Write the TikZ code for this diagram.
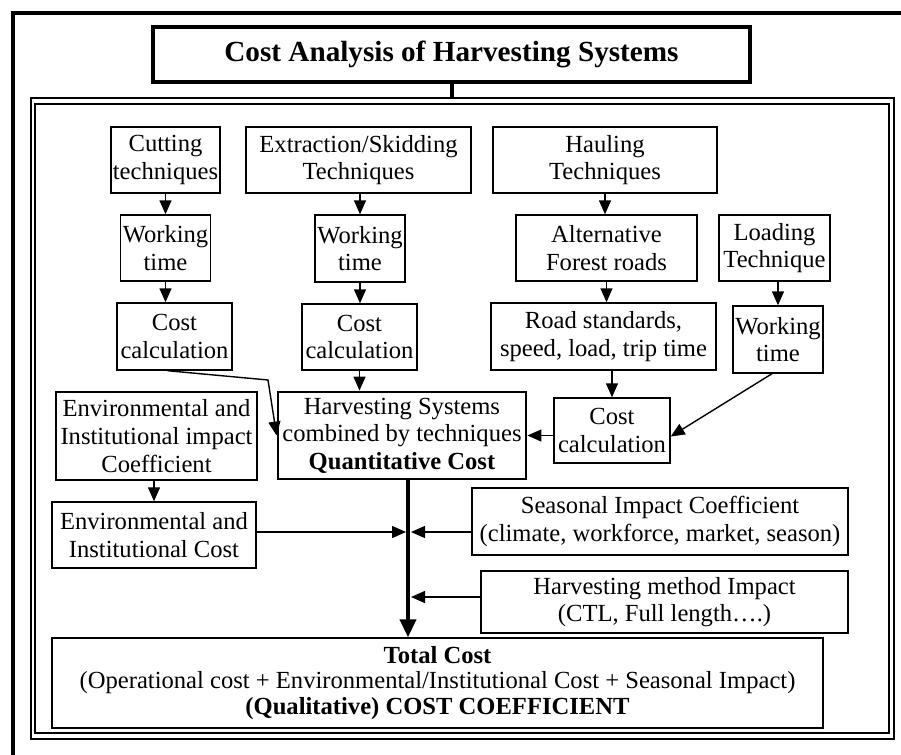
\documentclass[tikz,border=0pt]{standalone}
\usepackage{fontspec}
\setmainfont{Liberation Serif}
\usetikzlibrary{arrows.meta}

\begin{document}
\begin{tikzpicture}[x=0.5pt, y=-0.5pt, >={Triangle[length=7pt, width=6pt]},
	box/.style={draw, line width=0.7pt, align=center, inner sep=1pt, font=\fontsize{12.3}{13.8}\selectfont},
	wh/.style 2 args={minimum width=#1*0.5pt, minimum height=#2*0.5pt},
	link/.style={->, line width=0.7pt},
	mainlink/.style={-{Triangle[length=9pt, width=8pt]}, line width=2pt}]
		\useasboundingbox (0,0) rectangle (901,755);
		\clip (0,0) rectangle (901,755);
		
		% frames
		\draw[line width=2.3pt] (13,13) rectangle (930,790);
		\draw[line width=1.2pt] (31,98) rectangle (894,739);
		\draw[line width=0.6pt] (35,104) rectangle (889,733);
		\coordinate (frametop) at (450,98);
		
		\node[box, wh={597}{55}, line width=2pt, font=\fontsize{14.6}{16}\selectfont\bfseries] (title) at (451.5,54.5) {Cost Analysis of Harvesting Systems};
		
		% techniques
		\node[box, wh={109}{66}] (cut) at (165.5,160) {Cutting\\techniques};
		\node[box, wh={225}{66}] (ext) at (358.5,160) {Extraction/Skidding\\Techniques};
		\node[box, wh={224}{66}] (haul) at (605,160) {Hauling\\Techniques};
		
		\node[box, wh={89}{66}] (wt1) at (165.5,248) {Working\\time};
		\node[box, wh={90}{67}] (wt2) at (360,248.5) {Working\\time};
		\node[box, wh={181}{66}] (alt) at (606.5,248) {Alternative\\Forest roads};
		\node[box, wh={111}{66}] (load) at (774.5,248) {Loading\\Technique};
		
		\node[box, wh={115}{67}] (cc1) at (174.5,336.5) {Cost\\calculation};
		\node[box, wh={115}{66}] (cc2) at (359.5,337) {Cost\\calculation};
		\node[box, wh={225}{67}] (road) at (603.5,336.5) {Road standards,\\speed, load, trip time};
		\node[box, wh={90}{67}] (wt3) at (778,339.5) {Working\\time};
		
		\node[box, wh={201}{88}] (envc) at (156.5,436) {Environmental and\\Institutional impact\\Coefficient};
		\node[box, wh={248}{87}, line width=1.4pt] (hs) at (402,435.5) {Harvesting Systems\\combined by techniques\\\textbf{Quantitative Cost}};
		\node[box, wh={116}{65}] (cc3) at (612,430.5) {Cost\\calculation};
		
		% impacts
		\node[box, wh={376}{67}] (seas) at (660,521.5) {Seasonal Impact Coefficient\\(climate, workforce, market, season)};
		\node[box, wh={204}{66}] (envcost) at (154,535) {Environmental and\\Institutional Cost};
		\node[box, wh={367}{62}] (meth) at (664.5,602) {Harvesting method Impact\\(CTL, Full length….)};
		\node[box, wh={771}{90}, font=\fontsize{12.3}{12.8}\selectfont] (total) at (437.5,683) {\textbf{Total Cost}\\(Operational cost + Environmental/Institutional Cost + Seasonal Impact)\\\textbf{(Qualitative) COST COEFFICIENT}};
		
		\coordinate (bend1) at (268,380);
		\coordinate (main) at (408,479);
		\coordinate (j1) at (408,532);
		\coordinate (j2) at (408,597);
		
		\draw[line width=2pt] (title.south) -- (title.south |- frametop);
		
		\draw[link] (cut.south) -- (cut.south |- wt1.north);
		\draw[link] (wt1.south) -- (wt1.south |- cc1.north);
		\draw[link] ([xshift=-3.5pt]cc1.south) -- (bend1) -- (hs.west);
		\draw[link] (ext.south -| wt2.north) -- (wt2.north);
		\draw[link] (wt2.south) -- (wt2.south |- cc2.north);
		\draw[link] (cc2.south) -- (cc2.south |- hs.north);
		\draw[link] (haul.south) -- (haul.south |- alt.north);
		\draw[link] (alt.south) -- (alt.south |- road.north);
		\draw[link] (cc3.north |- road.south) -- (cc3.north);
		\draw[link] (wt3.north |- load.south) -- (wt3.north);
		\draw[link] ([xshift=-3pt]wt3.south) -- ([yshift=-3pt]cc3.east);
		\draw[link] ([yshift=-2.5pt]cc3.west) -- ([yshift=-2.5pt]cc3.west -| hs.east);
		\draw[link] (envcost.north |- envc.south) -- (envcost.north);
		
		\draw[mainlink] (main) -- (main |- total.north);
		\draw[link] (envcost.east |- j1) -- ([xshift=-1pt]j1);
		\draw[link] (seas.west |- j1) -- ([xshift=1.5pt]j1);
		\draw[link] (meth.west |- j2) -- ([xshift=1.5pt]j2);
	\end{tikzpicture}
\end{document}
